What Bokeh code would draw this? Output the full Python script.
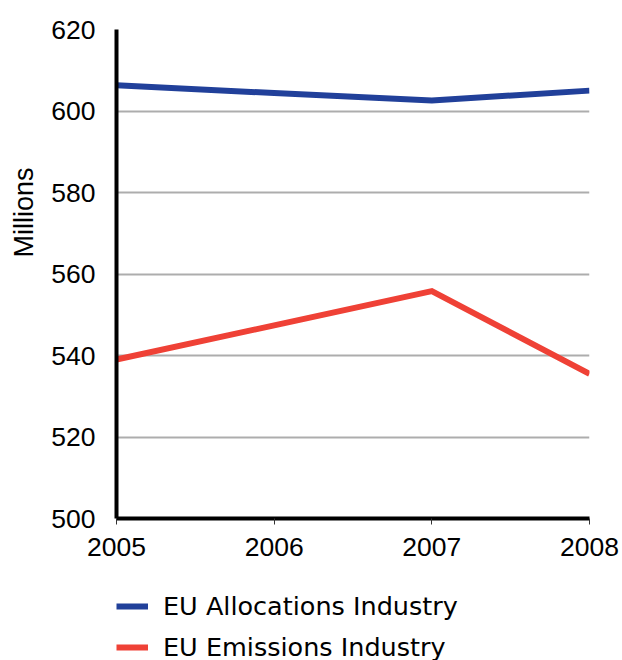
from bokeh.plotting import figure
from bokeh.layouts import column
from bokeh.models import Range1d, Legend, LegendItem, Title, FixedTicker
from bokeh.embed import file_html
from bokeh.resources import INLINE

years = [2005, 2006, 2007, 2008]
allocations = [606.3, 604.4, 602.6, 605.0]
emissions = [539.0, 547.4, 555.8, 535.5]
y_ticks = [500, 520, 540, 560, 580, 600, 620]
series_names = ["EU Allocations Industry", "EU Emissions Industry"]
y_title = "Millions"

BLUE = "#21409a"
RED = "#ef4136"

# ---------------- main chart ----------------
p = figure(frame_width=473, frame_height=489, output_backend="svg", toolbar_location=None,
           x_range=Range1d(2005, 2008), y_range=Range1d(500, 620),
           min_border_left=116, min_border_right=33, min_border_top=29,
           min_border_bottom=45)
p.outline_line_color = None
p.background_fill_color = "white"

p.line(years, allocations, line_color=BLUE, line_width=6, line_join="miter")
p.line(years, emissions, line_color=RED, line_width=6, line_join="miter")

p.xaxis.ticker = FixedTicker(ticks=years)
p.yaxis.ticker = FixedTicker(ticks=y_ticks)
for ax in (p.xaxis, p.yaxis):
    ax.axis_line_color = "black"
    ax.axis_line_width = 4
    ax.minor_tick_line_color = None
    ax.major_label_text_font = "Liberation Sans"
    ax.major_label_text_font_size = "26.5px"
    ax.major_label_text_color = "black"
p.xaxis.major_tick_line_color = "#333333"
p.xaxis.major_tick_line_width = 1
p.xaxis.major_tick_out = 6
p.xaxis.major_tick_in = 0
p.xaxis.major_label_standoff = 13
p.yaxis.major_tick_line_color = None
p.yaxis.major_tick_out = 0
p.yaxis.major_tick_in = 0
p.yaxis.major_label_standoff = 21

p.xgrid.grid_line_color = None
p.ygrid.ticker = FixedTicker(ticks=y_ticks)
p.ygrid.grid_line_color = "#adadad"
p.ygrid.grid_line_width = 2

ttl = Title(text=y_title, align="right", offset=138, vertical_align="top",
            text_font="Liberation Sans", text_font_size="27px",
            text_font_style="normal", text_color="black", standoff=16)
p.add_layout(ttl, "left")

# ---------------- legend strip ----------------
q = figure(width=622, height=97, output_backend="svg", toolbar_location=None,
           x_range=Range1d(2005, 2008), y_range=Range1d(0, 1),
           x_axis_location=None, y_axis_location=None, min_border=0)
q.outline_line_color = None
q.grid.visible = False
q1 = q.line(years, allocations, line_color=BLUE, line_width=6)
q2 = q.line(years, emissions, line_color=RED, line_width=6)

legend = Legend(items=[LegendItem(label=series_names[0], renderers=[q1]),
                       LegendItem(label=series_names[1], renderers=[q2])],
                location=(0, -2), orientation="vertical")
legend.padding = 0
legend.margin = 0
legend.spacing = 11
legend.glyph_width = 32
legend.glyph_height = 26
legend.label_height = 26
legend.label_standoff = 15
legend.label_text_font = "DejaVu Sans"
legend.label_text_font_size = "25.5px"
legend.label_text_line_height = 1.0
legend.label_text_color = "black"
legend.background_fill_alpha = 0
legend.border_line_color = None
q.add_layout(legend, "center")

open("out.html", "w").write(file_html(column(p, q, spacing=0), INLINE))
